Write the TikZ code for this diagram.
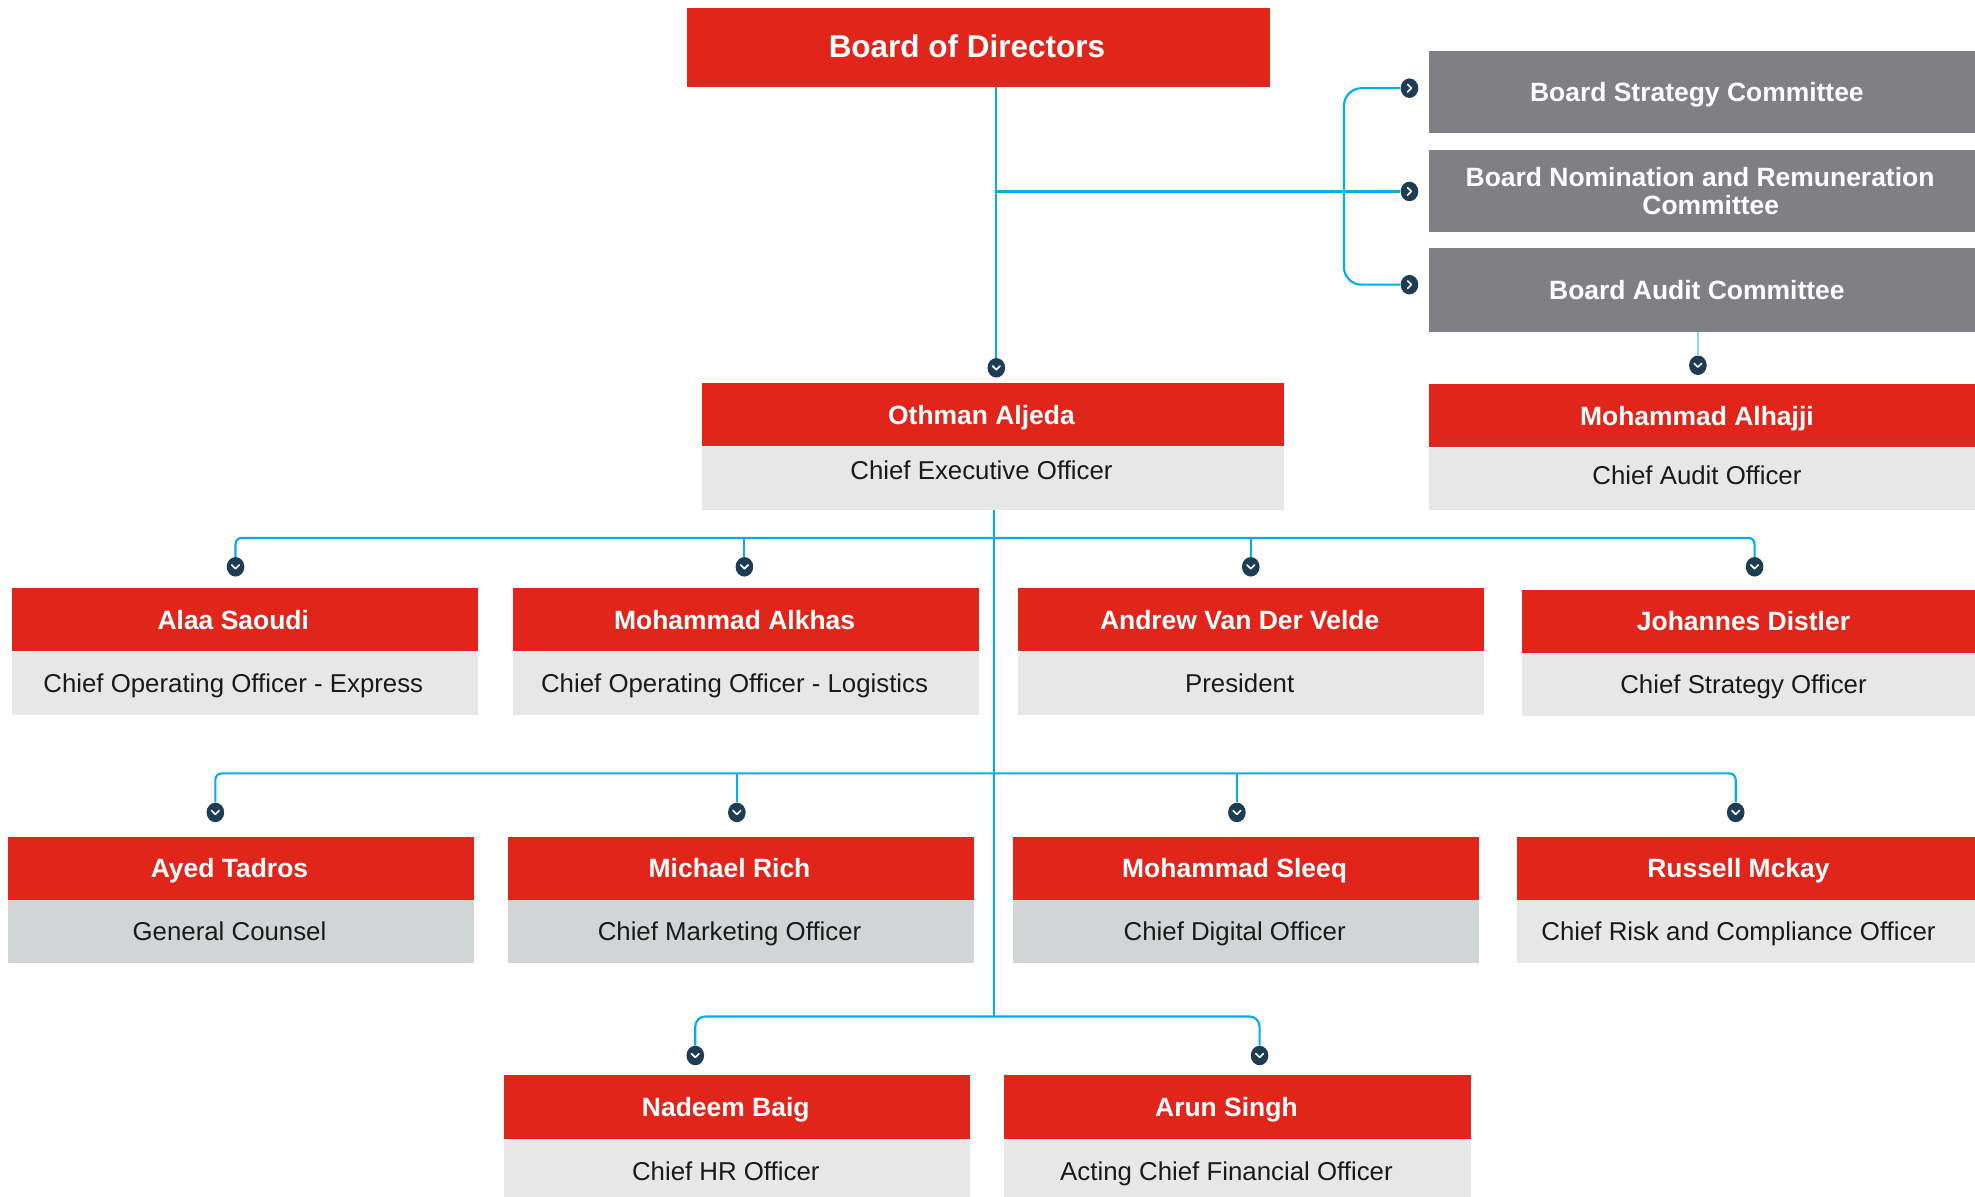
\documentclass[tikz,border=0pt]{standalone}
\usepackage{fontspec}
\setmainfont{Liberation Sans}
\usetikzlibrary{shapes.geometric}
\definecolor{axred}{HTML}{E1251B}
\definecolor{cgray}{HTML}{808084}
\definecolor{rlight}{HTML}{E7E7E7}
\definecolor{rdark}{HTML}{D2D5D6}
\definecolor{navy}{HTML}{1E3D54}
\definecolor{txt}{HTML}{1A1A1A}
\definecolor{lineblue}{HTML}{00AEEF}
\definecolor{lightblue}{HTML}{8ED8F5}
\newcommand{\namefont}{\bfseries\fontsize{21}{23}\selectfont}
\newcommand{\rolefont}{\fontsize{20.5}{23}\selectfont}
\newcommand{\boardfont}{\bfseries\fontsize{25}{28}\selectfont}
\newcommand{\comfont}{\bfseries\fontsize{21}{22.5}\selectfont}
\begin{document}
\begin{tikzpicture}[x=1pt,y=-1pt,
  redbox/.style={rectangle, fill=axred, text=white, font=\namefont, minimum height=50pt, inner sep=0pt,
     anchor=north west, text height=15pt, text depth=0pt, execute at end node={\kern18pt}},
  rolebox/.style={rectangle, fill=rlight, text=txt, font=\rolefont, minimum height=50pt, inner sep=0pt,
     anchor=north west, text height=14.5pt, text depth=0pt, execute at end node={\kern18pt}},
  roledark/.style={rolebox, fill=rdark},
  combox/.style={rectangle, fill=cgray, text=white, font=\comfont, minimum width=444pt, inner sep=0pt,
     anchor=north west, text height=15pt, text depth=0pt},
  comshift/.style={execute at end node={\kern18pt}},
  conn/.style={draw=lineblue, line width=1.7pt},
  aud/.style={draw=lightblue, line width=1pt},
  mk/.style={ellipse, fill=navy, minimum width=14pt, minimum height=15.5pt, inner sep=0pt},
  mkdown/.style={mk, path picture={\draw[white, line width=1.3pt, line cap=round, line join=round]
     ([shift={(-3pt,1.5pt)}]path picture bounding box.center) -- ++(3pt,-3pt) -- ++(3pt,3pt);}},
  mkright/.style={mk, path picture={\draw[white, line width=1.3pt, line cap=round, line join=round]
     ([shift={(-1.5pt,3pt)}]path picture bounding box.center) -- ++(3pt,-3pt) -- ++(-3pt,-3pt);}}
]
\useasboundingbox (0,0) rectangle (1568,950);
\clip (0,0) rectangle (1568,950);
\fill[white] (0,0) rectangle (1568,950);

% Board and committees
\node[redbox, minimum width=463pt, minimum height=63pt, font=\boardfont, text height=18pt, text depth=2pt] (bod) at (545,6) {Board of Directors};
\node[combox, comshift, minimum height=65pt] (bc1) at (1134,40) {Board Strategy Committee};
\node[combox, minimum height=65pt, text height=, text depth=] (bc2) at (1134,119) {\vbox{\hbox to 0pt{\hss Board Nomination and Remuneration\kern13pt\hss}\hbox to 0pt{\hss Committee\kern-4pt\hss}}};
\node[combox, comshift, minimum height=66pt] (bc3) at (1134,197) {Board Audit Committee};

% CEO and audit
\node[redbox, minimum width=462pt] (n0) at (557,304) {Othman Aljeda};
\node[rolebox, minimum width=462pt, text depth=13pt] (r0) at (n0.south west) {Chief Executive Officer};
\node[redbox, minimum width=444pt] (na) at (1134,305) {Mohammad Alhajji};
\node[rolebox, minimum width=444pt, minimum height=49pt, text depth=6pt] (ra) at (na.south west) {Chief Audit Officer};

% Row 1
\node[redbox, minimum width=370pt] (n11) at (9,467) {Alaa Saoudi};
\node[rolebox, minimum width=370pt] (r11) at (n11.south west) {Chief Operating Officer - Express};
\node[redbox, minimum width=370pt] (n12) at (407,467) {Mohammad Alkhas};
\node[rolebox, minimum width=370pt] (r12) at (n12.south west) {Chief Operating Officer - Logistics};
\node[redbox, minimum width=370pt] (n13) at (808,467) {Andrew Van Der Velde};
\node[rolebox, minimum width=370pt] (r13) at (n13.south west) {President};
\node[redbox, minimum width=370pt] (n14) at (1208,468) {Johannes Distler};
\node[rolebox, minimum width=370pt] (r14) at (n14.south west) {Chief Strategy Officer};

% Row 2
\node[redbox, minimum width=370pt] (n21) at (6,664) {Ayed Tadros};
\node[roledark, minimum width=370pt] (r21) at (n21.south west) {General Counsel};
\node[redbox, minimum width=370pt] (n22) at (403,664) {Michael Rich};
\node[roledark, minimum width=370pt] (r22) at (n22.south west) {Chief Marketing Officer};
\node[redbox, minimum width=370pt] (n23) at (804,664) {Mohammad Sleeq};
\node[roledark, minimum width=370pt] (r23) at (n23.south west) {Chief Digital Officer};
\node[redbox, minimum width=370pt] (n24) at (1204,664) {Russell Mckay};
\node[rolebox, minimum width=370pt] (r24) at (n24.south west) {Chief Risk and Compliance Officer};

% Row 3
\node[redbox, minimum width=370pt, minimum height=51pt] (n31) at (400,853) {Nadeem Baig};
\node[rolebox, minimum width=370pt] (r31) at (n31.south west) {Chief HR Officer};
\node[redbox, minimum width=371pt, minimum height=51pt] (n32) at (797,853) {Arun Singh};
\node[rolebox, minimum width=371pt] (r32) at (n32.south west) {Acting Chief Financial Officer};

% junction coordinates
\coordinate (bk) at (1067,152);
\coordinate (b1) at (789,427);
\coordinate (b2) at (789,614);
\coordinate (b3) at (789,807);

% markers
\node[mkdown] (m0) at (791,292) {};
\node[mkright] (mc1) at (1119,70) {};
\node[mkright] (mc2) at (1119,152) {};
\node[mkright] (mc3) at (1119,226) {};
\node[mkdown] (ma) at (1348,290) {};
\node[mkdown] (m11) at (187,450) {};
\node[mkdown] (m12) at (591,450) {};
\node[mkdown] (m13) at (993,450) {};
\node[mkdown] (m14) at (1393,450) {};
\node[mkdown] (m21) at (171,645) {};
\node[mkdown] (m22) at (585,645) {};
\node[mkdown] (m23) at (982,645) {};
\node[mkdown] (m24) at (1378,645) {};
\node[mkdown] (m31) at (552,838) {};
\node[mkdown] (m32) at (1000,838) {};

% connectors
\draw[conn] (bod.south -| m0) -- (m0.north);
\draw[conn] (m0 |- mc2) -- (mc2.west);
\draw[conn, rounded corners=14pt] (mc1.west) -| (bk) |- (mc3.west);
\draw[aud] (bc3.south -| ma) -- (ma.north);
\draw[conn] (r0.south -| b1) -- (b3);
\draw[conn, rounded corners=5pt] (m11.north) |- (b1) -| (m14.north);
\draw[conn] (m12.north) -- (m12.north |- b1);
\draw[conn] (m13.north) -- (m13.north |- b1);
\draw[conn, rounded corners=5pt] (m21.north) |- (b2) -| (m24.north);
\draw[conn] (m22.north) -- (m22.north |- b2);
\draw[conn] (m23.north) -- (m23.north |- b2);
\draw[conn, rounded corners=8pt] (m31.north) |- (b3) -| (m32.north);
\end{tikzpicture}
\end{document}
